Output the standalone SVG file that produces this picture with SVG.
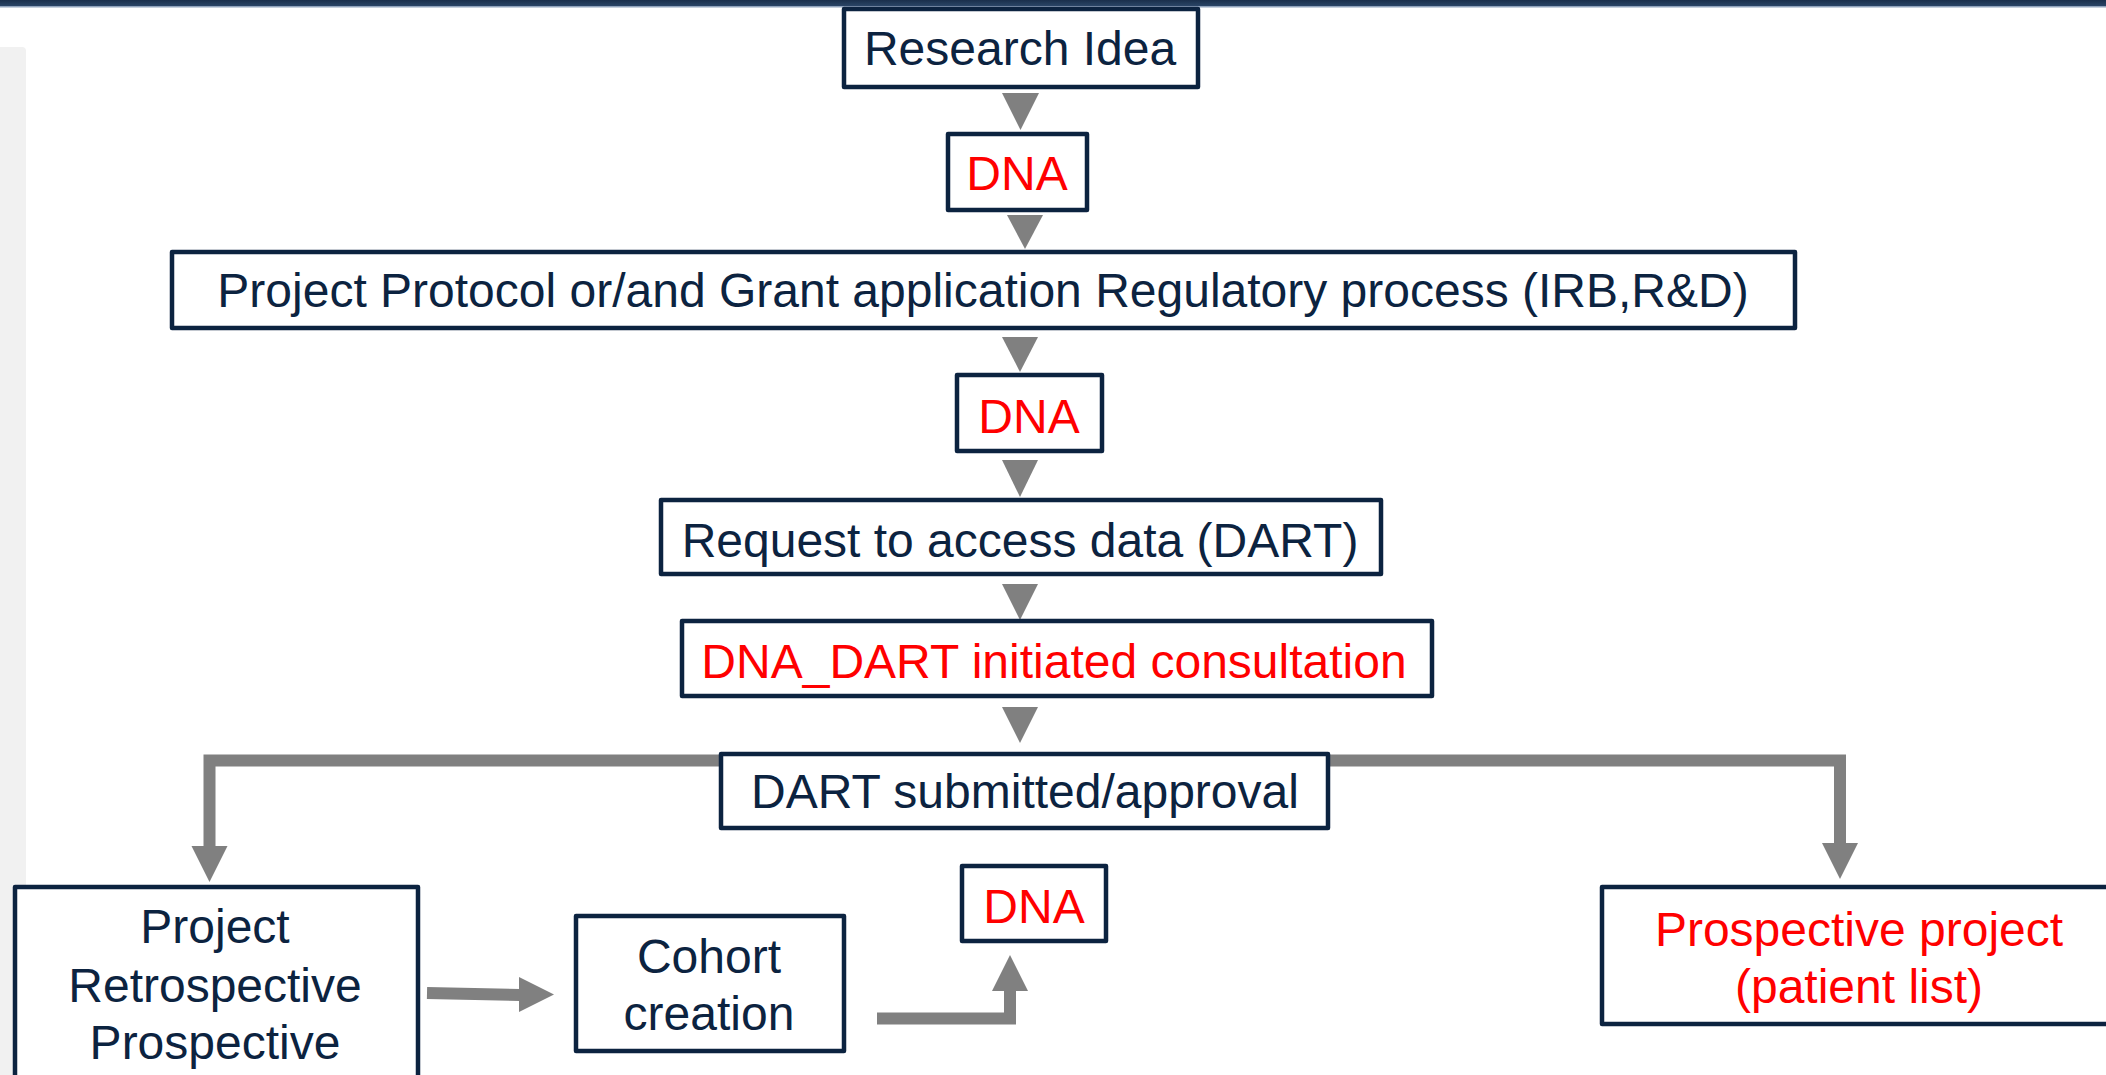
<svg xmlns="http://www.w3.org/2000/svg" width="2106" height="1075" viewBox="0 0 2106 1075">
<style>
.box{fill:#ffffff;stroke:#0c2340;stroke-width:4.5;stroke-linejoin:round}
.t{font-family:"Liberation Sans",Arial,sans-serif;font-size:48px;text-anchor:middle;fill:#0c2340}
.r{fill:#ff0000}
.ln{fill:none;stroke:#808080;stroke-width:12;stroke-linejoin:miter;stroke-linecap:butt}
.ah{fill:#808080}
</style>
<defs>
<linearGradient id="bar" x1="0" y1="0" x2="0" y2="1">
<stop offset="0" stop-color="#1a2f4b"/>
<stop offset="1" stop-color="#2a4566"/>
</linearGradient>
</defs>
<rect x="0" y="0" width="2106" height="1075" fill="#ffffff"/>
<rect x="0" y="0" width="2106" height="6" fill="url(#bar)"/>
<rect x="0" y="6" width="2106" height="1.5" fill="#90a3bc"/>
<path d="M0 47 H22 Q26 47 26 51 V1075 H0 Z" fill="#f1f1f1"/>

<g id="connectors">
<polygon class="ah" points="1002,93 1039,93 1020.5,130"/>
<polygon class="ah" points="1007,215 1043,215 1025,249"/>
<polygon class="ah" points="1002,337 1038,337 1020,372"/>
<polygon class="ah" points="1002,460 1038,460 1020,497"/>
<polygon class="ah" points="1002,584 1038,584 1020,620"/>
<polygon class="ah" points="1002,707 1038,707 1020,743"/>
<path class="ln" d="M719 760.5 H209.5 V847"/>
<polygon class="ah" points="191.5,846 227.5,846 209.5,882"/>
<path class="ln" d="M1328 760.5 H1840 V844"/>
<polygon class="ah" points="1822,843 1858,843 1840,879"/>
<path class="ln" d="M427 993 L520 995"/>
<polygon class="ah" points="519,977 554,994.5 519,1012"/>
<path class="ln" d="M877 1018.5 H1010 V990"/>
<polygon class="ah" points="992,991 1028,991 1010,955"/>
</g>

<g id="research-idea">
<rect class="box" x="844" y="9" width="354" height="78"/>
<text class="t" x="1020" y="65">Research Idea</text>
</g>
<g id="dna-1">
<rect class="box" x="948" y="134" width="139" height="76"/>
<text class="t r" x="1017" y="190">DNA</text>
</g>
<g id="project-protocol">
<rect class="box" x="172" y="252" width="1623" height="76"/>
<text class="t" x="983" y="307">Project Protocol or/and Grant application Regulatory process (IRB,R&amp;D)</text>
</g>
<g id="dna-2">
<rect class="box" x="957" y="375" width="145" height="76"/>
<text class="t r" x="1029" y="433">DNA</text>
</g>
<g id="request-access">
<rect class="box" x="661" y="500" width="720" height="74"/>
<text class="t" x="1020" y="557">Request to access data (DART)</text>
</g>
<g id="dna-dart">
<rect class="box" x="682" y="621" width="750" height="75"/>
<text class="t r" x="1054" y="678">DNA_DART initiated consultation</text>
</g>
<g id="dart-submitted">
<rect class="box" x="721" y="754" width="607" height="74"/>
<text class="t" x="1025" y="808">DART submitted/approval</text>
</g>
<g id="project-retro">
<rect class="box" x="15" y="887" width="403" height="210"/>
<text class="t" x="215" y="943">Project</text>
<text class="t" x="215" y="1002">Retrospective</text>
<text class="t" x="215" y="1059">Prospective</text>
</g>
<g id="cohort">
<rect class="box" x="576" y="916" width="268" height="135"/>
<text class="t" x="709" y="973">Cohort</text>
<text class="t" x="709" y="1030">creation</text>
</g>
<g id="dna-3">
<rect class="box" x="962" y="866" width="144" height="75"/>
<text class="t r" x="1034" y="923">DNA</text>
</g>
<g id="prospective-project">
<rect class="box" x="1602" y="887" width="520" height="137"/>
<text class="t r" x="1859" y="946">Prospective project</text>
<text class="t r" x="1859" y="1003">(patient list)</text>
</g>
</svg>
